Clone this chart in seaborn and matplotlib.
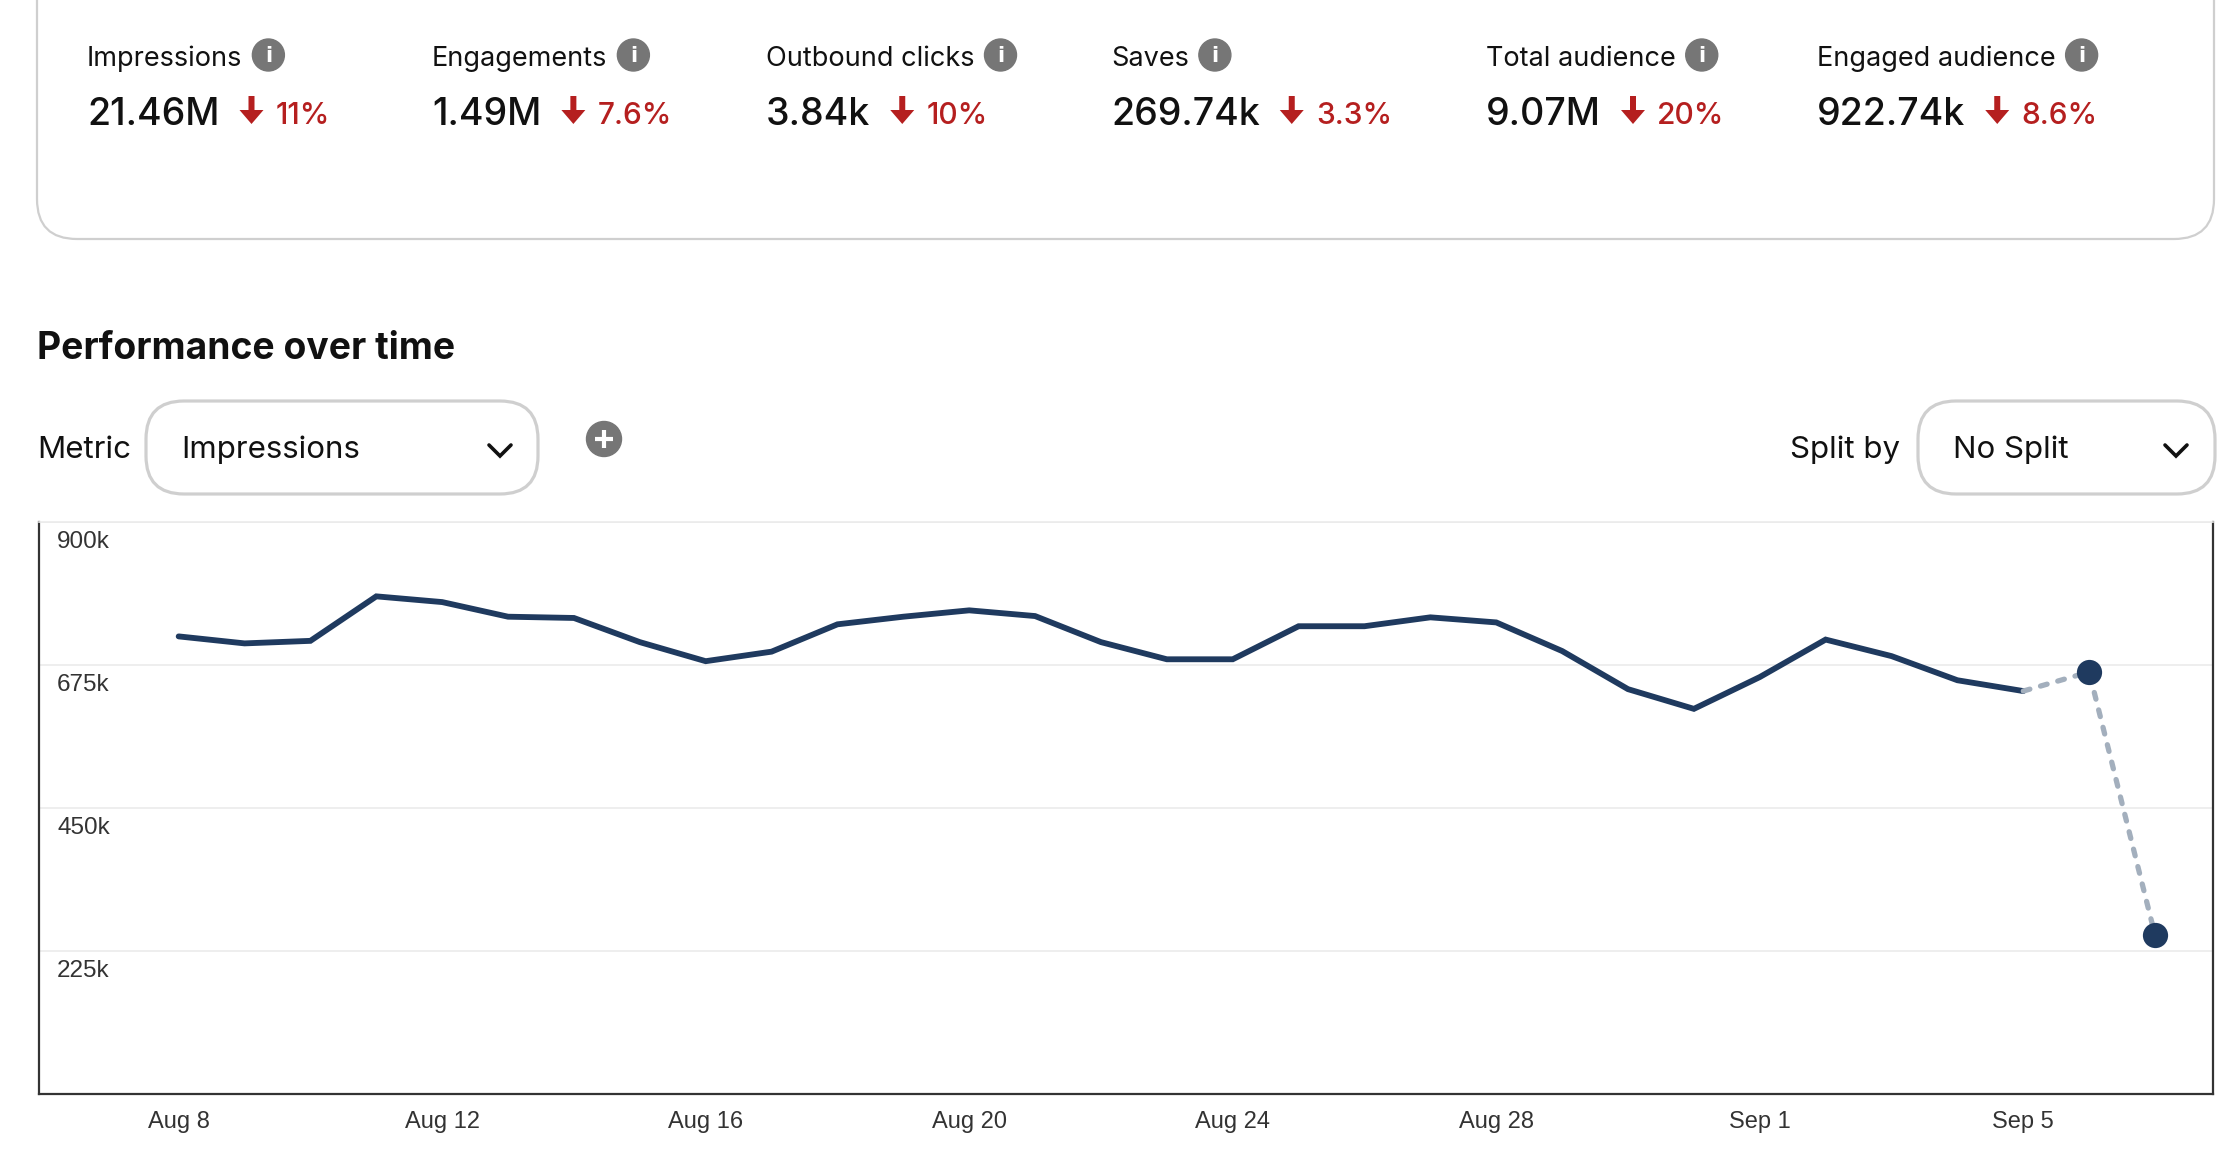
import matplotlib.pyplot as plt
import numpy as np
import pandas as pd
import seaborn as sns
from matplotlib.patches import FancyBboxPatch, Circle, FancyArrow

# daily impressions (thousands), Aug 8 .. Sep 7
days = ['Aug 8', 'Aug 9', 'Aug 10', 'Aug 11', 'Aug 12', 'Aug 13', 'Aug 14', 'Aug 15',
        'Aug 16', 'Aug 17', 'Aug 18', 'Aug 19', 'Aug 20', 'Aug 21', 'Aug 22', 'Aug 23',
        'Aug 24', 'Aug 25', 'Aug 26', 'Aug 27', 'Aug 28', 'Aug 29', 'Aug 30', 'Aug 31',
        'Sep 1', 'Sep 2', 'Sep 3', 'Sep 4', 'Sep 5', 'Sep 6', 'Sep 7']
impressions_k = [720, 709, 713, 783, 774, 751, 749, 711, 681, 696, 739, 751, 761, 752, 711, 684,
                 684, 736, 736, 750, 742, 697, 637, 606, 656, 715, 689, 651, 634, 664, 250]
final_day = 'Sep 5'   # last complete day, later days are estimates

xtick_days = ['Aug 8', 'Aug 12', 'Aug 16', 'Aug 20', 'Aug 24', 'Aug 28', 'Sep 1', 'Sep 5']
ytick_values = [225000, 450000, 675000, 900000]
ytick_labels = ['225k', '450k', '675k', '900k']

metric_names = ['Impressions', 'Engagements', 'Outbound clicks', 'Saves', 'Total audience', 'Engaged audience']
metric_values = ['21.46M', '1.49M', '3.84k', '269.74k', '9.07M', '922.74k']
metric_changes = ['11%', '7.6%', '10%', '3.3%', '20%', '8.6%']
metric_x = [87, 432, 766, 1111, 1486, 1817]

NAVY = '#1f3a5f'
GREY_DASH = '#a3afbd'
RED = '#b51f1f'
ICON = '#767676'
BORDER = '#cfcfcf'
TXT = '#111111'
UI_FONT = ['Inter', 'DejaVu Sans']

df = pd.DataFrame({'day': days, 'pos': np.arange(len(days)),
                   'impressions': np.array(impressions_k) * 1000})
cut = days.index(final_day)
solid = df.iloc[:cut + 1]
partial = df.iloc[cut:]
dots = df.iloc[cut + 1:]

sns.set_theme(style='white')
plt.rcParams['font.family'] = ['Liberation Sans', 'DejaVu Sans']

W, H = 2230, 1152
fig = plt.figure(figsize=(W / 100, H / 100), dpi=100)
fig.patch.set_facecolor('white')

# overlay in pixel coordinates for the dashboard chrome
ui = fig.add_axes([0, 0, 1, 1])
ui.set_xlim(0, W)
ui.set_ylim(H, 0)
ui.axis('off')

# ---- chart ----
ax = fig.add_axes([39 / W, 1 - 1094 / H, (2213 - 39) / W, (1094 - 522) / H])
sns.lineplot(data=solid, x='pos', y='impressions', color=NAVY, lw=4.2,
             solid_joinstyle='miter', ax=ax)
sns.lineplot(data=partial, x='pos', y='impressions', color=GREY_DASH, lw=3.8,
             linestyle=(0, (1.3, 2.1)), dash_capstyle='round', ax=ax)
sns.scatterplot(data=dots, x='pos', y='impressions', color=NAVY, s=330,
                linewidth=0, ax=ax, zorder=5)

ax.set_xlim(-2.12, 30.88)
ax.set_ylim(0, 900000)
ax.set_yticks(ytick_values)
ax.set_yticklabels([])
ax.yaxis.grid(True, color='#ebebeb', lw=1.2)
ax.set_xticks([days.index(d) for d in xtick_days])
ax.set_xticklabels(xtick_days, fontsize=17, color='#333333')
ax.tick_params(axis='both', length=0)
ax.tick_params(axis='x', pad=12)
ax.set_xlabel('')
ax.set_ylabel('')
for side in ['left', 'right', 'bottom']:
    ax.spines[side].set_color('#333333')
    ax.spines[side].set_linewidth(1.6)
ax.spines['top'].set_color('#ebebeb')
ax.spines['top'].set_linewidth(1.2)

for v, lab in zip(ytick_values, ytick_labels):
    ax.annotate(lab, xy=(0, v), xycoords=('axes fraction', 'data'),
                xytext=(13, -18.5), textcoords='offset points',
                ha='left', va='baseline', fontsize=17.5, color='#333333')

# ---- metric card ----
ui.add_patch(FancyBboxPatch((37, -120), 2177, 359,
                            boxstyle='round,pad=0,rounding_size=40',
                            fc='none', ec=BORDER, lw=1.6))

fig.canvas.draw()
renderer = fig.canvas.get_renderer()


def right_edge(t):
    return t.get_window_extent(renderer).x1


for name, val, chg, x0 in zip(metric_names, metric_values, metric_changes, metric_x):
    t = ui.text(x0, 66, name, family=UI_FONT, fontsize=19.5,
                color=TXT, va='baseline', ha='left')
    cx = right_edge(t) + 10 + 16
    ui.add_patch(Circle((cx, 55), 16, color=ICON))
    ui.text(cx, 56, 'i', family='DejaVu Sans', fontweight='bold', fontsize=15,
            color='white', ha='center', va='center')

    tv = ui.text(x0, 125, val, family=UI_FONT, fontsize=27, fontweight=500,
                 color=TXT, va='baseline', ha='left')
    ax_c = right_edge(tv) + 20 + 12
    ui.add_patch(FancyArrow(ax_c, 96, 0, 28, width=6, head_width=24, head_length=14,
                            length_includes_head=True, color=RED, lw=0))
    ui.text(ax_c + 24, 124, chg, family=UI_FONT, fontsize=21.5,
            color=RED, va='baseline', ha='left', fontweight=500)

# ---- section header and controls ----
ui.text(37, 359, 'Performance over time', family=UI_FONT,
        fontsize=26.8, fontweight='bold', color=TXT, va='baseline')
ui.text(37, 458, 'Metric', family=UI_FONT, fontsize=22.5,
        color=TXT, va='baseline')


def dropdown(x0, x1, label, tx, chev_x):
    ui.add_patch(FancyBboxPatch((x0, 401), x1 - x0, 93,
                                boxstyle='round,pad=0,rounding_size=38',
                                fc='white', ec=BORDER, lw=2.3))
    ui.text(tx, 458, label, family=UI_FONT, fontsize=22.5,
            color=TXT, va='baseline')
    ui.plot([chev_x - 11, chev_x, chev_x + 11], [445, 456, 445], color=TXT,
            lw=2.6, solid_capstyle='round', solid_joinstyle='miter')


dropdown(146, 538, 'Impressions', 181, 500)
dropdown(1918, 2215, 'No Split', 1953, 2176)

ui.text(1900, 458, 'Split by', family=UI_FONT, fontsize=22.5,
        color=TXT, va='baseline', ha='right')

# add-metric button
ui.add_patch(Circle((604, 439), 17.5, color=ICON))
ui.plot([595, 613], [439, 439], color='white', lw=3, solid_capstyle='butt')
ui.plot([604, 604], [430, 448], color='white', lw=3, solid_capstyle='butt')

fig.savefig('out.png', dpi=100, facecolor='white')
